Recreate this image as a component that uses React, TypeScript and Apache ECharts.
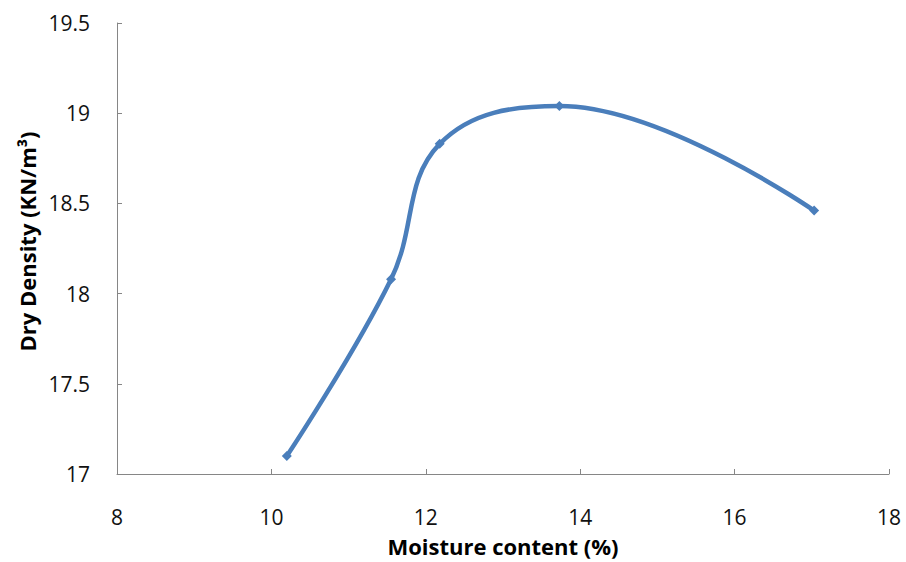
import React, { useEffect, useRef } from "react";
import * as echarts from "echarts";

const moisture = [10.2, 11.55, 12.18, 13.73, 17.03];
const dryDensity = [17.1, 18.08, 18.83, 19.04, 18.46];
const xTitle = "Moisture content (%)";
const yTitle = "Dry Density (KN/m³)";

export default function App() {
  const ref = useRef<HTMLDivElement>(null);
  useEffect(() => {
    const chart = echarts.init(ref.current!, undefined, { renderer: "svg" });
    const font = "'Open Sans', 'Liberation Sans', sans-serif";
    const axisColor = "#868686";
    chart.setOption({
      animation: false,
      backgroundColor: "#ffffff",
      grid: { left: 117, right: 17, top: 23, bottom: 85, containLabel: false },
      xAxis: {
        type: "value",
        min: 8,
        max: 18,
        interval: 2,
        name: xTitle,
        nameLocation: "middle",
        nameGap: 61,
        nameTextStyle: { fontFamily: font, fontSize: 22, fontWeight: "bold", color: "#000" },
        axisLine: { show: true, lineStyle: { color: axisColor, width: 1 } },
        axisTick: { show: true, inside: true, length: 5, lineStyle: { color: axisColor } },
        axisLabel: { margin: 32, fontFamily: font, fontSize: 21, color: "#111" },
        splitLine: { show: false },
      },
      yAxis: {
        type: "value",
        min: 17,
        max: 19.5,
        interval: 0.5,
        name: yTitle,
        nameLocation: "middle",
        nameGap: 78,
        nameTextStyle: { fontFamily: font, fontSize: 22, fontWeight: "bold", color: "#000", padding: [0, 0, 0, 14] },
        axisLine: { show: true, lineStyle: { color: axisColor, width: 1 } },
        axisTick: { show: true, inside: true, length: 5, lineStyle: { color: axisColor } },
        axisLabel: { margin: 27, fontFamily: font, fontSize: 21, color: "#111" },
        splitLine: { show: false },
      },
      series: [
        {
          type: "line",
          data: moisture.map((x, i) => [x, dryDensity[i]]),
          smooth: 0.4,
          symbol: "diamond",
          symbolSize: 10,
          itemStyle: { color: "#4a7ebb" },
          lineStyle: { color: "#4a7ebb", width: 4.5 },
        },
      ],
    });
    return () => chart.dispose();
  }, []);
  return <div ref={ref} style={{ width: 906, height: 562, position: "absolute", left: 0, top: 0 }} />;
}
